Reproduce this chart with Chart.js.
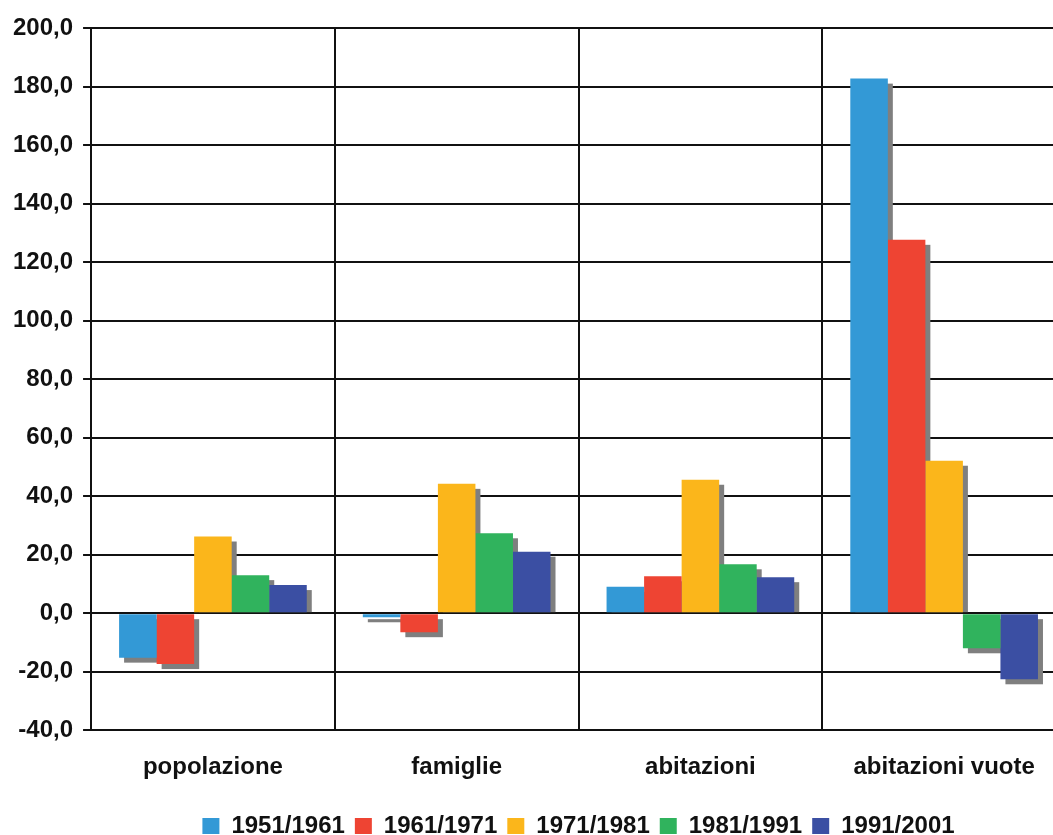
<!DOCTYPE html>
<html lang="it">
<head>
<meta charset="utf-8">
<title>Variazioni percentuali per decennio</title>
<script src="https://cdn.jsdelivr.net/npm/chart.js@4/dist/chart.umd.min.js"></script>
<style>
  html, body { margin: 0; padding: 0; background: #ffffff; overflow: hidden; }
  #wrap { position: relative; width: 1066px; height: 835px; }
</style>
</head>
<body>
<div id="wrap"><canvas id="chart"></canvas></div>
<script>
// Categorie sull'asse orizzontale
const categories = ['popolazione', 'famiglie', 'abitazioni', 'abitazioni vuote'];

// Periodi intercensuari (serie)
const periods = ['1951/1961', '1961/1971', '1971/1981', '1981/1991', '1991/2001'];

// Variazioni percentuali per periodo
const v1951_1961 = [-15.2, -1.4, 9.0, 182.7];
const v1961_1971 = [-17.4, -6.5, 12.6, 127.6];
const v1971_1981 = [26.2, 44.2, 45.6, 52.1];
const v1981_1991 = [13.0, 27.3, 16.7, -12.0];
const v1991_2001 = [9.6, 21.0, 12.3, -22.6];

// Asse verticale
const yMin = -40;
const yMax = 200;
const yStep = 20;

const seriesValues = [v1951_1961, v1961_1971, v1971_1981, v1981_1991, v1991_2001];
const seriesColors = ['#3399d6', '#ee4433', '#fbb61b', '#30b35d', '#3b4fa3'];

const FONT = '"Liberation Sans", Arial, Helvetica, sans-serif';
const SHADOW = 5;

// Ombra grigia delle barre, ricavata dalla geometria degli elementi di Chart.js
const barShadow = {
  id: 'barShadow',
  beforeDatasetsDraw(chart) {
    const ctx = chart.ctx;
    const area = chart.chartArea;
    ctx.save();
    ctx.beginPath();
    ctx.rect(area.left, area.top, area.right - area.left + SHADOW, area.bottom - area.top);
    ctx.clip();
    ctx.fillStyle = '#7f7f7f';
    chart.getSortedVisibleDatasetMetas().forEach((meta) => {
      meta.data.forEach((bar) => {
        const { x, y, base, width } = bar.getProps(['x', 'y', 'base', 'width'], true);
        const left = x - width / 2 + SHADOW;
        if (y <= base) {
          ctx.fillRect(left, y + SHADOW, width, base - y - SHADOW);
        } else {
          ctx.fillRect(left, base + SHADOW, width, y - base);
        }
      });
    });
    ctx.restore();
  }
};

// Legenda centrata sull'area del grafico e accostata al bordo inferiore
const legendPlacement = {
  id: 'legendPlacement',
  afterLayout(chart) {
    const lg = chart.legend;
    if (lg) {
      lg.left = chart.chartArea.left;
      lg.right = chart.chartArea.right;
      lg.top += 13;
      lg.bottom += 13;
    }
  }
};

const datasets = periods.map((label, i) => ({
  label,
  data: seriesValues[i],
  backgroundColor: seriesColors[i],
  borderWidth: 0
}));

new Chart(document.getElementById('chart'), {
  type: 'bar',
  data: { labels: categories, datasets },
  plugins: [barShadow, legendPlacement],
  options: {
    responsive: true,
    maintainAspectRatio: false,
    animation: false,
    events: [],
    layout: { padding: { top: 28, left: 3, right: 0, bottom: 0 } },
    datasets: {
      bar: { categoryPercentage: 0.77, barPercentage: 1.0 }
    },
    scales: {
      x: {
        grid: {
          offset: true,
          color: '#111111',
          lineWidth: 2,
          drawTicks: false
        },
        border: { display: false },
        ticks: {
          color: '#111111',
          padding: 23,
          font: { family: FONT, size: 24, weight: 'bold' }
        },
        afterFit(scale) {
          scale.height -= 14;
        }
      },
      y: {
        min: yMin,
        max: yMax,
        grid: {
          color: '#111111',
          lineWidth: 2,
          tickLength: 8
        },
        border: { display: true, color: '#111111', width: 2 },
        ticks: {
          stepSize: yStep,
          color: '#111111',
          padding: 10,
          font: { family: FONT, size: 24, weight: 'bold' },
          callback: (v) => v.toFixed(1).replace('.', ',')
        }
      }
    },
    plugins: {
      tooltip: { enabled: false },
      title: { display: false },
      legend: {
        position: 'bottom',
        align: 'center',
        labels: {
          color: '#111111',
          boxWidth: 17,
          boxHeight: 16,
          padding: 10,
          font: { family: FONT, size: 24, weight: 'bold' }
        }
      }
    }
  }
});
</script>
</body>
</html>
